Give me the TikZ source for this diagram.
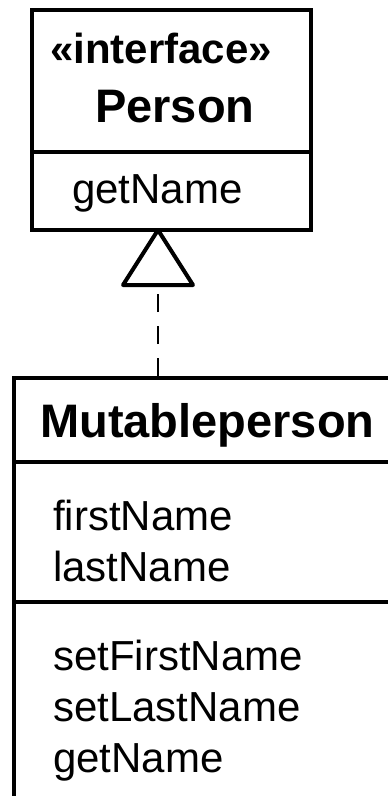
\documentclass[tikz,border=0pt]{standalone}
\usepackage{fontspec}
\setmainfont{Liberation Sans}
\usetikzlibrary{positioning}
\usetikzlibrary{calc}
\tikzstyle{umlbox} = [draw,line width=4pt,inner sep=0pt,anchor=north west]
\tikzstyle{compartment} = [draw,line width=4pt]
\tikzstyle{classname} = [inner sep=0pt,anchor=base west,font=\fontsize{47}{47}\selectfont\bfseries]
\tikzstyle{member} = [inner sep=0pt,anchor=base west,font=\fontsize{42}{42}\selectfont]
\tikzstyle{realize} = [draw,line width=1.5pt,dash pattern=on 18pt off 14pt]
\tikzstyle{hollowhead} = [draw,line width=4pt,line join=round,fill=white]

\begin{document}
\begin{tikzpicture}[x=1pt,y=-1pt]
    \useasboundingbox (0,0) rectangle (388,796);

    % the two class boxes
    \node[umlbox,minimum width=279pt,minimum height=220pt] (person) at (30,8) {};
    \node[umlbox,minimum width=420pt,minimum height=460pt] (mutable) at (12,376) {};

    \draw[compartment] (person.west |- 0,152) -- (person.east |- 0,152);
    \draw[compartment] (mutable.west |- 0,462) -- (mutable.east |- 0,462);
    \draw[compartment] (mutable.west |- 0,602) -- (mutable.east |- 0,602);

    % names
    \node[classname,font=\fontsize{42}{42}\selectfont\bfseries] (stereo) at (50,63) {«interface»};
    \node[classname] (pname) at (95,122) {Person};
    \node[classname] (mname) at (40,437) {Mutableperson};

    % members
    \foreach \pos/\name/\label in {{(72,203)/pget/getName}, {(53,530)/first/firstName}, {(53,581)/last/lastName},
        {(53,670)/setfirst/setFirstName}, {(53,721)/setlast/setLastName}, {(53,772)/mget/getName}}
        \node[member] (\name) at \pos {\label};

    % realization
    \coordinate (apex) at (158,230);
    \draw[hollowhead] (apex) -- ++(-35,55) coordinate (basel) -- ++(70,0) -- cycle;
    \path[realize] (mutable.north -| apex) -- (basel -| apex);

\end{tikzpicture}
\end{document}
